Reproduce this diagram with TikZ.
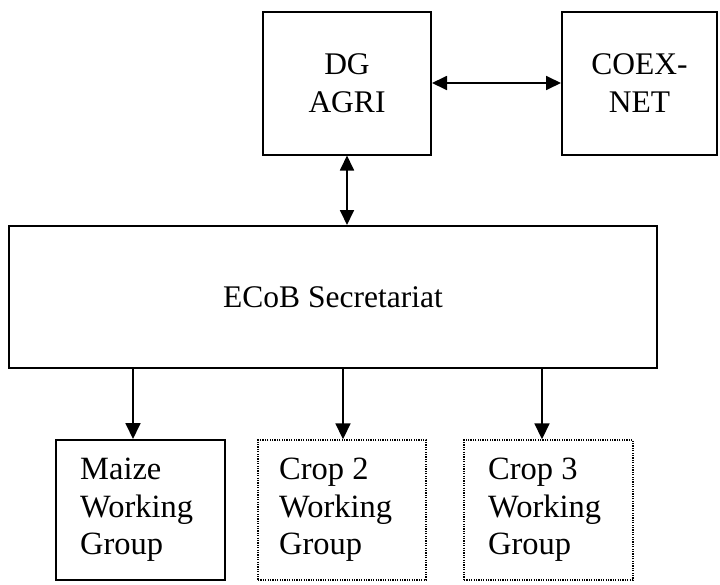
\documentclass[tikz,border=0pt]{standalone}
\usepackage{fontspec}
\setmainfont{Liberation Serif}
\usetikzlibrary{arrows.meta}
\begin{document}
\begin{tikzpicture}[x=1pt,y=-1pt,
  box/.style={draw,line width=2pt,inner sep=0pt,font=\fontsize{31.5}{38}\selectfont,align=center},
  dotbox/.style={draw,line width=1.4pt,dash pattern=on 1.2pt off 1.2pt,inner sep=0pt},
  wlbl/.style={font=\fontsize{32.5}{37.5}\selectfont,align=left,anchor=north west,inner sep=0pt},
  arr/.style={line width=1.8pt,-{Triangle[length=16pt,width=15pt]}},
  darr/.style={line width=1.8pt,{Triangle[length=15pt,width=14pt]}-{Triangle[length=15pt,width=14pt]}}]
\useasboundingbox (0,0) rectangle (720,584);
\node[box,minimum width=168pt,minimum height=143pt] (dg) at (347,83) {DG\\AGRI};
\node[box,minimum width=155pt,minimum height=143pt] (coex) at (639.5,83) {COEX-\\NET};
\node[box,minimum width=648pt,minimum height=142pt] (ecob) at (333,297) {ECoB Secretariat};
\node[box,minimum width=169pt,minimum height=140pt] (maize) at (140.5,510) {};
\node[dotbox,minimum width=168pt,minimum height=140pt] (crop2) at (342,510) {};
\node[dotbox,minimum width=169pt,minimum height=140pt] (crop3) at (548.5,510) {};
\node[wlbl] (tmaize) at (80,458) {Maize\\Working\\Group};
\node[wlbl] (tcrop2) at (279,458) {Crop 2\\Working\\Group};
\node[wlbl] (tcrop3) at (488,458) {Crop 3\\Working\\Group};
\draw[darr] (dg.east) -- (coex.west);
\draw[darr] (dg.south) -- (dg.south |- ecob.north);
\coordinate (m1) at ([xshift=-7.5pt]maize.north);
\coordinate (m2) at ([xshift=1pt]crop2.north);
\coordinate (m3) at ([xshift=-6.5pt]crop3.north);
\draw[arr] (m1 |- ecob.south) -- (m1);
\draw[arr] (m2 |- ecob.south) -- (m2);
\draw[arr] (m3 |- ecob.south) -- (m3);
\end{tikzpicture}
\end{document}
